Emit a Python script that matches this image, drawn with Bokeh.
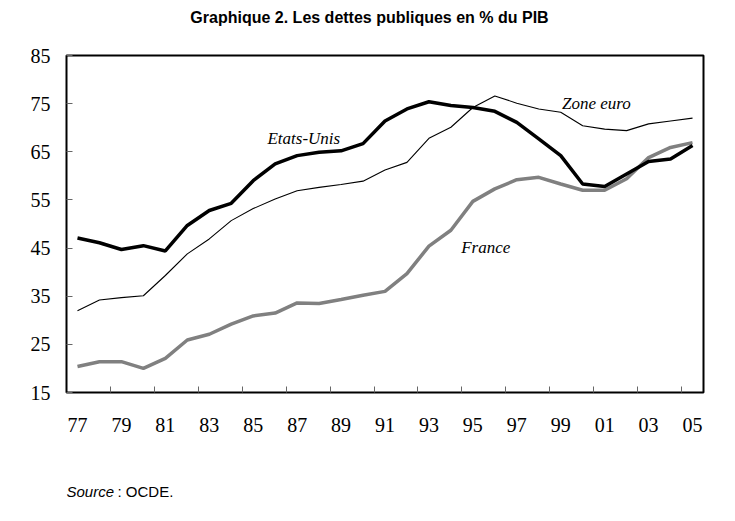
from bokeh.plotting import figure
from bokeh.models import Range1d, FixedTicker, Label, ColumnDataSource
from bokeh.layouts import column
from bokeh.core.properties import value
from bokeh.embed import file_html
from bokeh.resources import INLINE

years = list(range(1977, 2006))
etats_unis = [47.1, 46.1, 44.7, 45.5, 44.4, 49.7, 52.8, 54.3, 59.0, 62.5, 64.2,
              64.9, 65.2, 66.7, 71.4, 73.9, 75.4, 74.6, 74.2, 73.4, 71.1, 67.7,
              64.2, 58.3, 57.8, 60.4, 63.0, 63.5, 66.3]
zone_euro = [32.0, 34.2, 34.7, 35.1, 39.3, 43.8, 46.9, 50.7, 53.2, 55.2, 56.9,
             57.6, 58.2, 58.9, 61.2, 62.8, 67.8, 70.1, 74.2, 76.6, 75.1, 73.9,
             73.2, 70.4, 69.7, 69.4, 70.8, 71.4, 72.0]
france = [20.4, 21.4, 21.4, 20.0, 22.1, 25.9, 27.1, 29.2, 30.9, 31.5, 33.6,
          33.5, 34.3, 35.2, 36.0, 39.7, 45.4, 48.7, 54.7, 57.3, 59.2, 59.7,
          58.3, 57.0, 57.0, 59.4, 63.8, 65.9, 66.9]
y_ticks = [15, 25, 35, 45, 55, 65, 75, 85]
x_label_years = list(range(1977, 2006, 2))
x_tick_labels = ["77", "79", "81", "83", "85", "87", "89", "91", "93", "95",
                 "97", "99", "01", "03", "05"]
title_text = "Graphique 2. Les dettes publiques en % du PIB"
series_names = ["Etats-Unis", "Zone euro", "France"]


def text_strip(height):
    # frames in a column are aligned with the chart's frame (66..703 px)
    f = figure(width=735, height=height, output_backend="svg", toolbar_location=None,
               x_range=Range1d(66, 703), y_range=Range1d(height, 0),
               x_axis_location=None, y_axis_location=None,
               min_border_left=66, min_border_right=32, min_border_top=0,
               min_border_bottom=0)
    f.xgrid.visible = False
    f.ygrid.visible = False
    f.outline_line_color = None
    f.background_fill_color = "white"
    f.border_fill_color = "white"
    return f


# title strip
top = text_strip(43)
top.text(x=[369], y=[17], text=[title_text], text_font=value("Liberation Sans"),
         text_font_style="bold", text_font_size="16px", text_align="center",
         text_baseline="middle", text_color="black")

# main chart
src = ColumnDataSource(dict(year=years, us=etats_unis, ze=zone_euro, fr=france))

p = figure(width=735, height=407, output_backend="svg", toolbar_location=None,
           x_range=Range1d(1976.5, 2005.5), y_range=Range1d(15, 85),
           min_border_left=66, min_border_right=32, min_border_top=12,
           min_border_bottom=58)
p.xgrid.visible = False
p.ygrid.visible = False
p.background_fill_color = "white"
p.border_fill_color = "white"
p.outline_line_color = "black"
p.outline_line_width = 2

p.line("year", "ze", source=src, line_color="black", line_width=1.1)
p.line("year", "fr", source=src, line_color="#808080", line_width=3.5)
p.line("year", "us", source=src, line_color="black", line_width=3.5)

xa = p.xaxis[0]
xa.ticker = FixedTicker(ticks=x_label_years,
                        minor_ticks=[y + 0.5 for y in years[1:-1:2]])
xa.major_label_overrides = {y: l for y, l in zip(x_label_years, x_tick_labels)}
xa.major_tick_in = 0
xa.major_tick_out = 0
xa.minor_tick_in = 6
xa.minor_tick_out = 0
xa.minor_tick_line_color = "#666666"
xa.axis_line_color = None
xa.major_label_text_font = "Liberation Serif"
xa.major_label_text_font_size = "20px"
xa.major_label_text_color = "black"
xa.major_label_standoff = 25

ya = p.yaxis[0]
ya.ticker = FixedTicker(ticks=y_ticks, minor_ticks=[])
ya.major_tick_in = 6
ya.major_tick_out = 0
ya.major_tick_line_color = "#666666"
ya.minor_tick_line_color = None
ya.axis_line_color = None
ya.major_label_text_font = "Liberation Serif"
ya.major_label_text_font_size = "20px"
ya.major_label_text_color = "black"
ya.major_label_standoff = 16

for txt, x, y in zip(series_names, [1985.65, 1999.06, 1994.47], [67.8, 75.1, 45.2]):
    p.add_layout(Label(x=x, y=y, text=txt, text_font="Liberation Serif",
                       text_font_style="italic", text_font_size="17px",
                       text_baseline="middle", text_align="left",
                       text_color="black"))

# source strip
bot = text_strip(71)
bot.text(x=[66], y=[41], text=["Source"], text_font=value("Liberation Sans"),
         text_font_style="italic", text_font_size="15px", text_align="left",
         text_baseline="middle", text_color="black")
bot.text(x=[117], y=[41], text=[": OCDE."], text_font=value("Liberation Sans"),
         text_font_size="15px", text_align="left", text_baseline="middle",
         text_color="black")

layout = column(top, p, bot, spacing=0)
open("out.html", "w").write(file_html(layout, INLINE))
